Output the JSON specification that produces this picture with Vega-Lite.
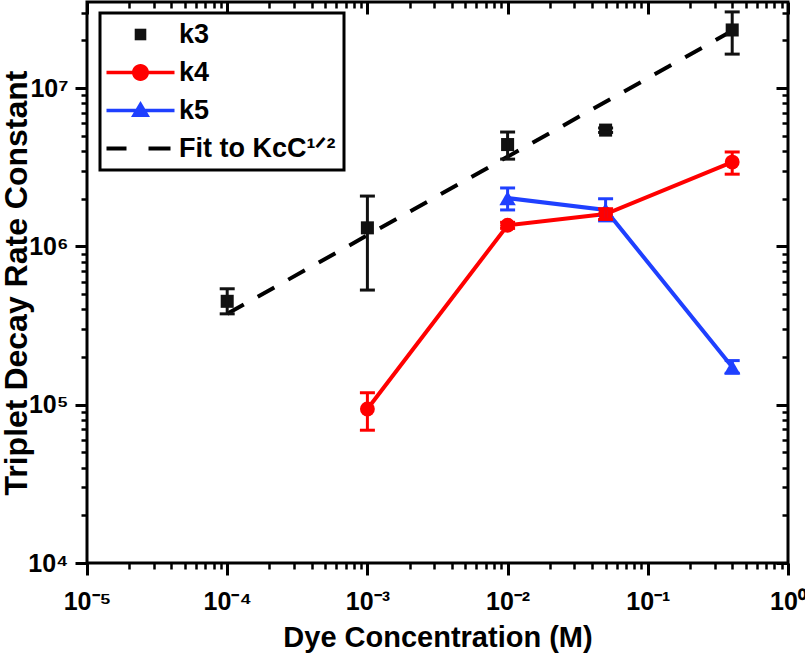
{
  "$schema": "https://vega.github.io/schema/vega-lite/v6.json",
  "autosize": {"type": "none"},
  "width": 701,
  "height": 561,
  "padding": {"left": 87, "top": 2, "right": 17, "bottom": 92},
  "background": "white",
  "config": {
    "font": "Liberation Sans",
    "view": {"stroke": "black", "strokeWidth": 3},
    "axis": {
      "grid": false,
      "domain": false,
      "tickColor": "black",
      "labelColor": "black",
      "titleColor": "black",
      "labelFont": "Liberation Sans",
      "labelFontWeight": "bold",
      "labelFontSize": 25,
      "titleFont": "Liberation Sans",
      "titleFontWeight": "bold",
      "titleFontSize": 29,
      "labelFlush": false,
      "labelOverlap": false
    }
  },
  "datasets": {
    "fit": [
      {"series": "Fit", "conc": 0.0001, "k": 375000},
      {"series": "Fit", "conc": 0.4, "k": 23000000}
    ],
    "rates": [
      {"series": "k3", "conc": 0.0001, "k": 450000, "lo": 375000, "hi": 540000},
      {"series": "k3", "conc": 0.001, "k": 1310000, "lo": 530000, "hi": 2080000},
      {"series": "k3", "conc": 0.01, "k": 4400000, "lo": 3560000, "hi": 5280000},
      {"series": "k3", "conc": 0.05, "k": 5430000, "lo": 5250000, "hi": 5600000},
      {"series": "k3", "conc": 0.4, "k": 23300000, "lo": 16400000, "hi": 30300000},
      {"series": "k5", "conc": 0.01, "k": 2020000, "lo": 1700000, "hi": 2340000},
      {"series": "k5", "conc": 0.05, "k": 1700000, "lo": 1450000, "hi": 2000000},
      {"series": "k5", "conc": 0.4, "k": 173000, "lo": 158000, "hi": 190000},
      {"series": "k4", "conc": 0.001, "k": 94000, "lo": 69000, "hi": 119000},
      {"series": "k4", "conc": 0.01, "k": 1360000, "lo": 1300000, "hi": 1420000},
      {"series": "k4", "conc": 0.05, "k": 1600000, "lo": 1480000, "hi": 1730000},
      {"series": "k4", "conc": 0.4, "k": 3410000, "lo": 2860000, "hi": 3950000}
    ]
  },
  "resolve": {"axis": {"x": "independent", "y": "independent"}},
  "layer": [
    {
      "data": {"name": "fit"},
      "mark": {"type": "line", "strokeWidth": 4, "strokeDash": [19, 16], "clip": true},
      "encoding": {
        "x": {
          "field": "conc", "type": "quantitative",
          "scale": {"type": "log", "domain": [0.00001, 1], "nice": false},
          "axis": {
            "orient": "bottom",
            "values": [0.00001, 0.0001, 0.001, 0.01, 0.1, 1],
            "tickSize": 12, "tickWidth": 3,
            "labelPadding": 14,
            "labelExpr": "['10⁻⁵','10⁻⁴','10⁻³','10⁻²','10⁻¹','10⁰'][round(log(datum.value)/LN10)+5]",
            "title": "Dye Concentration (M)",
            "titlePadding": 9
          }
        },
        "y": {
          "field": "k", "type": "quantitative",
          "scale": {"type": "log", "domain": [10000, 35000000], "nice": false},
          "axis": {
            "orient": "left",
            "values": [10000, 100000, 1000000, 10000000],
            "tickSize": 12, "tickWidth": 3,
            "labelPadding": 7,
            "labelExpr": "['10⁴','10⁵','10⁶','10⁷'][round(log(datum.value)/LN10)-4]",
            "title": "Triplet Decay Rate Constant",
            "titleFontSize": 32,
            "titleAngle": 270,
            "titleBaseline": "bottom",
            "titleX": -54
          }
        },
        "color": {
          "field": "series", "type": "nominal",
          "scale": {"domain": ["k3", "k4", "k5", "Fit"], "range": ["#111111", "#ff0000", "#1f40ff", "#000000"]},
          "legend": {
            "orient": "none",
            "legendX": 13,
            "legendY": 11,
            "title": null,
            "symbolSize": 400,
            "symbolStrokeWidth": 0,
            "symbolOffset": 19,
            "labelFont": "Liberation Sans",
            "labelFontSize": 27,
            "labelFontWeight": "bold",
            "labelColor": "black",
            "labelOffset": 25,
            "padding": 8,
            "rowPadding": 10,
            "strokeColor": "black",
            "fillColor": "white",
            "labelExpr": "datum.label == 'Fit' ? 'Fit to KcC¹ᐟ²' : datum.label",
            "encode": {
              "legend": {"update": {"strokeWidth": {"value": 3}}},
              "symbols": {
                "update": {
                  "shape": {"signal": "['M-0.58,-0.58H0.58V0.58H-0.58Z', 'M-3.4,-0.18H3.4V0.18H-3.4Z M0.85,0 A0.85,0.85 0 1,1 -0.85,0 A0.85,0.85 0 1,1 0.85,0Z', 'M-3.4,-0.18H3.4V0.18H-3.4Z M0,-0.95 L0.95,0.65 L-0.95,0.65Z', 'M-3.4,-0.21H-1.4V0.21H-3.4Z M0.8,-0.21H3.0V0.21H0.8Z'][datum.index]"},
                  "fill": {"signal": "['#111111','#ff0000','#1f40ff','#000000'][datum.index]"},
                  "fillOpacity": {"value": 1},
                  "opacity": {"value": 1},
                  "stroke": {"value": "transparent"},
                  "strokeWidth": {"value": 0},
                  "size": {"value": 400}
                }
              }
            }
          }
        }
      }
    },
    {
      "data": {"name": "rates"},
      "transform": [{"filter": "datum.series !== 'k3'"}],
      "mark": {"type": "line", "strokeWidth": 4},
      "encoding": {
        "x": {
          "field": "conc", "type": "quantitative",
          "axis": {
            "orient": "bottom",
            "values": [2e-5, 3e-5, 4e-5, 5e-5, 6e-5, 7e-5, 8e-5, 9e-5, 2e-4, 3e-4, 4e-4, 5e-4, 6e-4, 7e-4, 8e-4, 9e-4, 0.002, 0.003, 0.004, 0.005, 0.006, 0.007, 0.008, 0.009, 0.02, 0.03, 0.04, 0.05, 0.06, 0.07, 0.08, 0.09, 0.2, 0.3, 0.4, 0.5, 0.6, 0.7, 0.8, 0.9],
            "tickSize": 6, "tickWidth": 2.5, "labels": false, "title": null
          }
        },
        "y": {
          "field": "k", "type": "quantitative",
          "axis": {
            "orient": "left",
            "values": [20000, 30000, 40000, 50000, 60000, 70000, 80000, 90000, 200000, 300000, 400000, 500000, 600000, 700000, 800000, 900000, 2000000, 3000000, 4000000, 5000000, 6000000, 7000000, 8000000, 9000000, 20000000, 30000000],
            "tickSize": 6, "tickWidth": 2.5, "labels": false, "title": null
          }
        },
        "color": {"field": "series", "type": "nominal"}
      }
    },
    {
      "data": {"name": "rates"},
      "mark": {"type": "point", "filled": true, "opacity": 1},
      "encoding": {
        "x": {
          "field": "conc", "type": "quantitative",
          "axis": {
            "orient": "top",
            "values": [0.00001, 0.0001, 0.001, 0.01, 0.1, 1],
            "tickSize": -12, "tickWidth": 3, "labels": false, "title": null
          }
        },
        "y": {
          "field": "k", "type": "quantitative",
          "axis": {
            "orient": "right",
            "values": [10000, 100000, 1000000, 10000000],
            "tickSize": -12, "tickWidth": 3, "labels": false, "title": null
          }
        },
        "color": {"field": "series", "type": "nominal"},
        "shape": {
          "field": "series", "type": "nominal",
          "scale": {"domain": ["k3", "k4", "k5"], "range": ["square", "circle", "triangle-up"]},
          "legend": null
        },
        "size": {
          "field": "series", "type": "nominal",
          "scale": {"domain": ["k3", "k4", "k5"], "range": [170, 270, 260]},
          "legend": null
        }
      }
    },
    {
      "data": {"name": "rates"},
      "mark": {"type": "rule", "strokeWidth": 3},
      "encoding": {
        "x": {
          "field": "conc", "type": "quantitative",
          "axis": {
            "orient": "top",
            "values": [2e-5, 3e-5, 4e-5, 5e-5, 6e-5, 7e-5, 8e-5, 9e-5, 2e-4, 3e-4, 4e-4, 5e-4, 6e-4, 7e-4, 8e-4, 9e-4, 0.002, 0.003, 0.004, 0.005, 0.006, 0.007, 0.008, 0.009, 0.02, 0.03, 0.04, 0.05, 0.06, 0.07, 0.08, 0.09, 0.2, 0.3, 0.4, 0.5, 0.6, 0.7, 0.8, 0.9],
            "tickSize": -6, "tickWidth": 2.5, "labels": false, "title": null
          }
        },
        "y": {
          "field": "lo", "type": "quantitative",
          "axis": {
            "orient": "right",
            "values": [20000, 30000, 40000, 50000, 60000, 70000, 80000, 90000, 200000, 300000, 400000, 500000, 600000, 700000, 800000, 900000, 2000000, 3000000, 4000000, 5000000, 6000000, 7000000, 8000000, 9000000, 20000000, 30000000],
            "tickSize": -6, "tickWidth": 2.5, "labels": false, "title": null
          }
        },
        "y2": {"field": "hi"},
        "color": {"field": "series", "type": "nominal"}
      }
    },
    {
      "data": {"name": "rates"},
      "mark": {"type": "tick", "orient": "horizontal", "size": 15, "thickness": 3, "opacity": 1},
      "encoding": {
        "x": {"field": "conc", "type": "quantitative", "axis": null},
        "y": {"field": "lo", "type": "quantitative", "axis": null},
        "color": {"field": "series", "type": "nominal"}
      }
    },
    {
      "data": {"name": "rates"},
      "mark": {"type": "tick", "orient": "horizontal", "size": 15, "thickness": 3, "opacity": 1},
      "encoding": {
        "x": {"field": "conc", "type": "quantitative", "axis": null},
        "y": {"field": "hi", "type": "quantitative", "axis": null},
        "color": {"field": "series", "type": "nominal"}
      }
    }
  ]
}
